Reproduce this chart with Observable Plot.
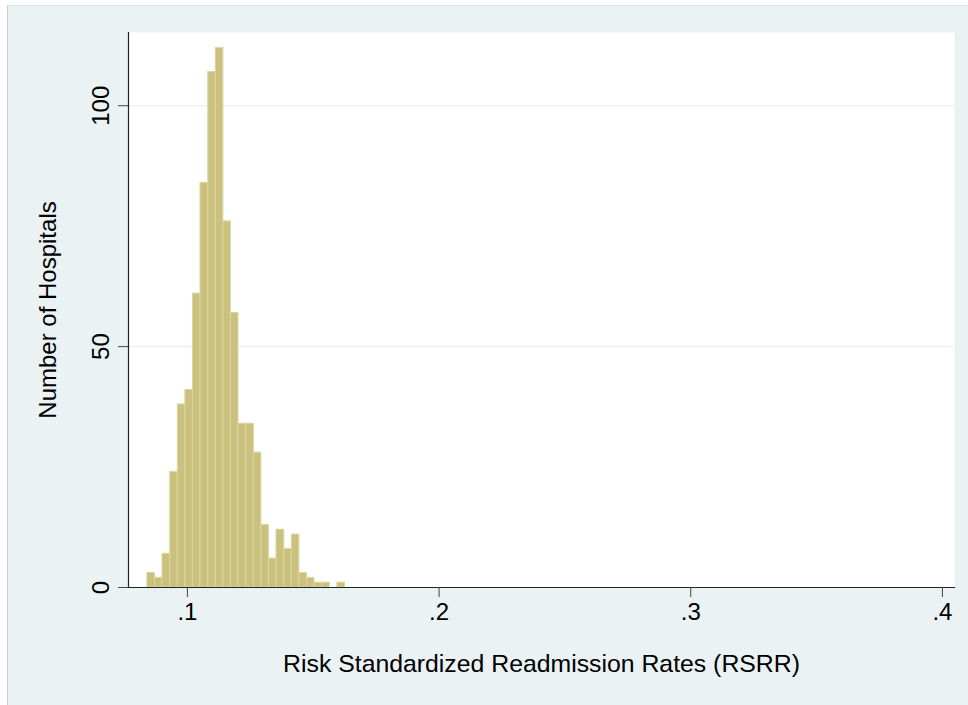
<!DOCTYPE html>
<html>
<head>
<meta charset="utf-8">
<script src="https://cdn.jsdelivr.net/npm/d3@7"></script>
<script src="https://cdn.jsdelivr.net/npm/@observablehq/plot@0.6"></script>
<style>
  html, body { margin: 0; padding: 0; background: #ffffff; }
  #wrap { position: absolute; left: 7px; top: 5px; border-left: 1px solid #c8cccd; border-top: 1px solid #dde2e3; background: #eaf2f3; width: 961px; height: 699px; overflow: hidden; }
  svg { display: block; }
</style>
</head>
<body>
<div id="wrap"></div>
<script>
// Bin edges of the histogram (RSRR)
const binEdges = [0.0841, 0.0871, 0.0901, 0.0932, 0.0962, 0.0992, 0.1022, 0.1052, 0.1083,
  0.1113, 0.1143, 0.1173, 0.1203, 0.1234, 0.1264, 0.1294, 0.1324, 0.1354, 0.1385,
  0.1415, 0.1445, 0.1475, 0.1505, 0.1536, 0.1566, 0.1596, 0.1626];
// Number of hospitals in each bin
const counts = [3, 2, 7, 24, 38, 41, 61, 84, 107, 112, 76, 57, 34, 34, 28, 13, 6, 12, 8, 11, 3, 2, 1, 1, 0, 1];
const xTicks = [0.1, 0.2, 0.3, 0.4];
const xTickLabels = [".1", ".2", ".3", ".4"];
const yTicks = [0, 50, 100];
const yGrid = [50, 100];
const xTitle = "Risk Standardized Readmission Rates (RSRR)";
const yTitle = "Number of Hospitals";

const bins = counts.map((c, i) => ({x1: binEdges[i], x2: binEdges[i + 1], n: c})).filter(d => d.n > 0);

const font = "'Liberation Sans', Arial, Helvetica, sans-serif";

const chart = Plot.plot({
  width: 960,
  height: 699,
  marginLeft: 120,
  marginRight: 14,
  marginTop: 26,
  marginBottom: 118,
  style: { background: "transparent", fontFamily: font, color: "#000" },
  x: { type: "linear", domain: [0.0766, 0.4048], axis: null },
  y: { type: "linear", domain: [0, 115.2], axis: null },
  marks: [
    Plot.frame({ fill: "#ffffff", stroke: "none" }),
    Plot.ruleY(yGrid, { y: d => d, stroke: "#eaf2f3", strokeWidth: 1.5 }),
    Plot.rectY(bins, { x1: "x1", x2: "x2", y: "n", fill: "#cac17e", stroke: "#ddd69f", strokeWidth: 1, insetLeft: 0, insetRight: 0 }),
    Plot.frame({ anchor: "left", stroke: "#222", strokeWidth: 1.2 }),
    Plot.frame({ anchor: "bottom", stroke: "#222", strokeWidth: 1.2 }),
    Plot.axisX({ ticks: xTicks, tickFormat: (d, i) => xTickLabels[i], tickSize: 10, tickPadding: 5, fontSize: 24, stroke: "#444", label: null }),
    Plot.axisY({ ticks: yTicks, tickFormat: () => "", tickSize: 10, tickPadding: 0, stroke: "#444", label: null }),
    Plot.text(yTicks, { y: d => d, text: d => String(d), frameAnchor: "left", dx: -20, rotate: -90, lineAnchor: "bottom", textAnchor: "middle", fontSize: 24, fill: "#000" }),
    Plot.text([xTitle], { frameAnchor: "bottom", dy: 84, fontSize: 24.8, fill: "#000", lineAnchor: "bottom", textAnchor: "middle" }),
    Plot.text([yTitle], { frameAnchor: "left", dx: -80, rotate: -90, fontSize: 24, fill: "#000", lineAnchor: "middle", textAnchor: "middle" })
  ]
});
document.getElementById("wrap").appendChild(chart);
</script>
</body>
</html>
